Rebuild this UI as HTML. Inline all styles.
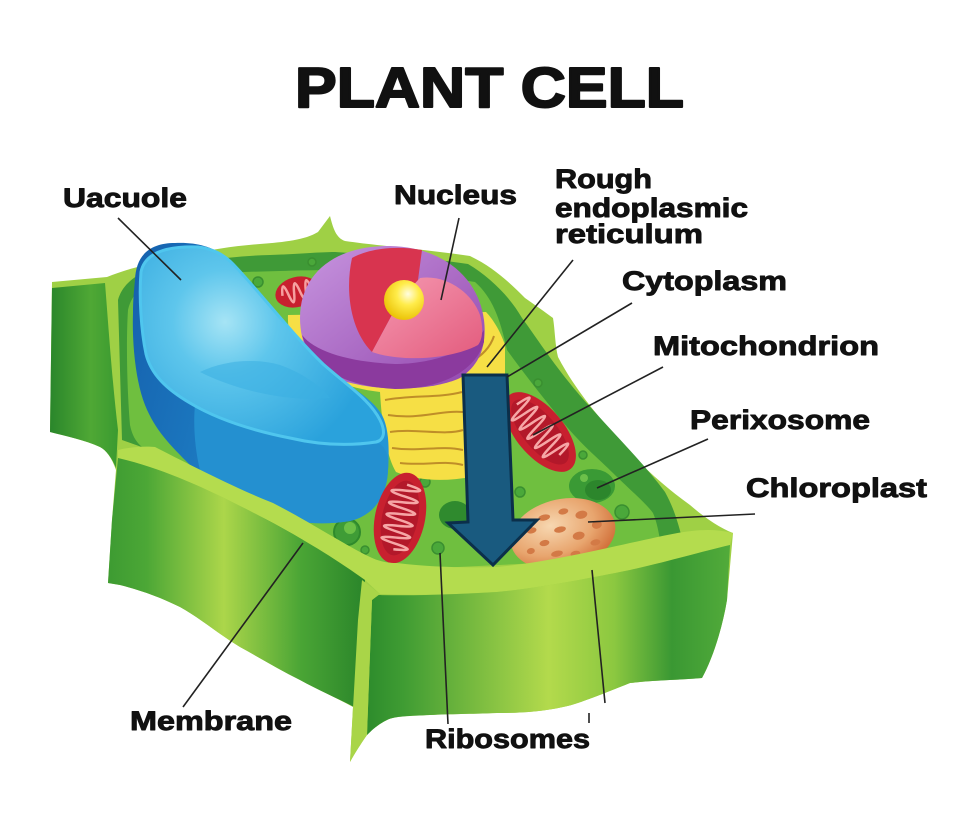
<!DOCTYPE html>
<html><head><meta charset="utf-8"><style>
html,body{margin:0;padding:0;background:#fff;}
svg{display:block;}
text{font-family:"Liberation Sans",Arial,sans-serif;font-weight:bold;fill:#111;stroke:#111;stroke-linejoin:round;}
</style></head><body>
<svg width="978" height="821" viewBox="0 0 978 821" xmlns="http://www.w3.org/2000/svg">
<defs>
<linearGradient id="gFlap" x1="0" y1="0" x2="1" y2="0"><stop offset="0" stop-color="#2a862b"/><stop offset="0.6" stop-color="#4fa835"/><stop offset="1" stop-color="#3a9a30"/></linearGradient>
<linearGradient id="gLL" x1="0" y1="0" x2="1" y2="0"><stop offset="0" stop-color="#3d9b32"/><stop offset="0.15" stop-color="#4ca736"/><stop offset="0.45" stop-color="#acd64a"/><stop offset="0.75" stop-color="#4aa535"/><stop offset="1" stop-color="#2a852a"/></linearGradient>
<linearGradient id="gMid" x1="0" y1="0" x2="1" y2="0"><stop offset="0" stop-color="#2d8c2c"/><stop offset="0.1" stop-color="#3f9c33"/><stop offset="0.5" stop-color="#b3da4c"/><stop offset="0.68" stop-color="#8cc840"/><stop offset="0.84" stop-color="#3a9833"/><stop offset="1" stop-color="#52ab3a"/></linearGradient>
<linearGradient id="gVacSide" x1="0" y1="0" x2="1" y2="0.3"><stop offset="0" stop-color="#1560ad"/><stop offset="1" stop-color="#2496d6"/></linearGradient>
<radialGradient id="gVacTop" gradientUnits="userSpaceOnUse" cx="225" cy="322" r="150"><stop offset="0" stop-color="#a6e4f5"/><stop offset="0.35" stop-color="#5ec6ec"/><stop offset="1" stop-color="#2aa2dc"/></radialGradient>
<linearGradient id="gPurple" x1="0" y1="0" x2="1" y2="1"><stop offset="0" stop-color="#c795df"/><stop offset="1" stop-color="#9246ad"/></linearGradient>
<linearGradient id="gPink" x1="0" y1="0" x2="1" y2="1"><stop offset="0" stop-color="#f59ab2"/><stop offset="1" stop-color="#e35b7d"/></linearGradient>
<radialGradient id="gBall" cx="0.6" cy="0.35" r="0.7"><stop offset="0" stop-color="#fffde0"/><stop offset="0.4" stop-color="#ffec4a"/><stop offset="1" stop-color="#e9bf00"/></radialGradient>
<radialGradient id="gChloro" cx="0.4" cy="0.35" r="0.7"><stop offset="0" stop-color="#f7d7b0"/><stop offset="0.6" stop-color="#e8a56e"/><stop offset="1" stop-color="#cf6a34"/></radialGradient>
</defs>

<!-- Title -->
<text x="295" y="107" font-size="57" textLength="389" lengthAdjust="spacingAndGlyphs" stroke-width="2">PLANT CELL</text>

<!-- Silhouette (light wall) -->
<path fill="#9fd045" d="M52,282 L107,277 C120,272 132,268 142,266 C180,255 220,247 260,244 C285,242 305,240 318,232 L330,216 C333,228 336,238 345,241 C380,246 430,250 470,256 C495,268 512,285 525,298 C535,305 545,312 553,318 C555,330 555,345 558,357 C570,380 585,400 600,418 C625,450 655,480 690,505 C705,518 720,528 733,533 L727,600 C722,630 712,660 702,678 C680,680 655,680 630,683 C600,695 575,705 563,707 C540,712 520,713 497,713 C470,714 450,714 430,715 C410,716 395,716 387,720 C377,725 372,730 367,735 C360,745 355,753 350,762 L353,707 C335,697 318,690 300,680 C280,670 260,658 240,647 C220,635 200,618 180,607 C160,597 140,590 120,585 L108,583 L112,520 L116,470 C112,458 106,450 100,447 C85,440 65,436 50,432 Z"/>

<!-- Upper-left flap face -->
<path fill="url(#gFlap)" d="M52,288 L105,283 C108,320 112,380 118,430 L116,468 C112,458 106,450 100,447 C85,440 65,436 50,432 Z"/>

<!-- Dark back band -->
<path fill="#3f9a37" d="M118,300 C122,285 135,275 150,270 C190,262 230,256 270,255 C300,254 320,252 335,252 C380,255 430,258 468,264 C490,277 510,297 522,318 C537,338 560,375 593,410 C620,440 645,465 665,492 C672,505 676,515 682,538 L640,550 L300,540 L150,450 L122,440 Z"/>

<!-- Cytoplasm -->
<path fill="#6fbf3f" d="M128,310 C132,292 145,283 165,278 C200,273 240,272 280,271 C310,270 340,270 360,270 C400,272 440,276 475,282 C492,297 500,318 507,350 C525,375 545,400 567,427 C585,448 600,460 613,473 C630,490 645,502 653,513 C656,520 658,528 660,540 L600,560 L397,570 L273,515 L155,455 C140,448 133,440 130,425 C127,390 126,340 128,310 Z"/>

<!-- small vesicles -->
<g fill="#4aa83a" stroke="#3a8f30" stroke-width="1.5">
<circle cx="258" cy="282" r="5"/><circle cx="312" cy="262" r="4"/>
<circle cx="425" cy="482" r="5"/><circle cx="520" cy="492" r="5"/>
<circle cx="583" cy="455" r="4"/><circle cx="538" cy="383" r="4"/>
<circle cx="622" cy="512" r="7"/><circle cx="300" cy="530" r="4"/>
<circle cx="438" cy="548" r="6"/><circle cx="365" cy="550" r="4"/>
</g>
<circle cx="347" cy="532" r="13" fill="#3f9c36" stroke="#2f8a2c" stroke-width="2"/>
<circle cx="350" cy="528" r="6" fill="#6cc046"/>
<ellipse cx="455" cy="515" rx="16" ry="14" fill="#2f8a2e"/>

<!-- Mitochondrion A (top-left, behind nucleus) -->
<g transform="translate(297,292) rotate(-15)">
<ellipse rx="22" ry="15" fill="#c8202f"/>
<path d="M-15,0 Q-12,-18 -9,0 T-3,0 T3,0 T9,0 T15,0" fill="none" stroke="#f6a0a0" stroke-width="2.5"/>
</g>

<!-- Rough ER -->
<path fill="#f6df45" d="M288,315 C286,355 320,385 380,392 C382,425 386,455 396,472 C425,484 465,482 505,468 L505,345 C500,330 492,318 486,312 Z"/>
<g fill="none" stroke="#bf8e28" stroke-width="2">
<path d="M385,400 C410,395 440,398 462,392"/>
<path d="M388,415 C420,420 440,410 463,412"/>
<path d="M390,432 C415,428 445,436 463,430"/>
<path d="M392,448 C420,452 440,445 463,450"/>
<path d="M400,463 C425,466 445,460 463,465"/>
<path d="M296,345 C318,372 350,382 385,386"/>
<path d="M470,362 C482,356 490,348 494,336"/>
</g>

<!-- Nucleus -->
<path fill="url(#gPurple)" d="M300,318 C300,270 340,245 390,246 C440,247 478,275 484,320 C487,345 480,365 460,378 C430,392 370,392 335,378 C312,368 300,345 300,318 Z"/>
<path fill="#8b3a9e" d="M302,335 C310,365 340,386 395,389 C440,389 475,372 484,342 L484,330 C470,352 430,364 395,364 C350,362 315,352 302,335 Z"/>
<path fill="#d8344f" d="M352,258 C368,249 395,245 422,250 L418,280 L400,300 L372,352 C350,330 345,290 352,258 Z"/>
<path fill="url(#gPink)" d="M372,352 L400,300 L420,278 C445,274 472,292 480,315 C484,330 482,340 478,345 C450,360 400,362 372,352 Z"/>
<circle cx="404" cy="300" r="20" fill="url(#gBall)"/>

<!-- Vacuole -->
<path fill="url(#gVacSide)" d="M135,280 C136,255 150,243 175,243 C200,242 215,248 230,260 C260,290 290,330 320,363 C345,385 370,395 382,415 C390,430 389,455 388,470 C387,495 375,515 350,521 C320,526 290,522 265,515 C240,505 215,490 190,465 C170,445 155,430 145,405 C135,380 132,340 133,313 C133,300 134,290 135,280 Z"/>
<path fill="#2490d0" d="M195,405 C230,425 290,442 380,444 C388,450 389,460 388,470 C387,495 375,515 350,521 C320,526 290,522 265,515 C240,505 215,490 200,470 C195,450 193,425 195,405 Z"/>
<path fill="url(#gVacTop)" stroke="#4fc6ee" stroke-width="3" d="M141,272 C145,252 168,246 198,247 C214,249 224,255 233,264 C260,292 290,332 323,364 C348,386 370,400 380,420 C386,432 384,440 376,442 C350,446 320,445 290,438 C250,430 215,418 190,403 C166,389 151,374 146,354 C141,330 139,296 141,272 Z"/>
<path fill="#3aaee2" opacity="0.55" d="M200,372 C240,392 290,402 330,398 C320,385 300,372 280,365 C255,358 225,360 200,372 Z"/>

<!-- Mitochondrion B -->
<g transform="translate(400,518) rotate(102)">
<ellipse rx="46" ry="25" fill="#c8202f"/>
<ellipse rx="38" ry="18" fill="#b3182a"/>
<path d="M-34,0 Q-31,-28 -28,0 T-22,0 T-16,0 T-10,0 T-4,0 T2,0 T8,0 T14,0 T20,0 T26,0 T32,0" fill="none" stroke="#f6a6a6" stroke-width="2.5"/>
</g>
<!-- Mitochondrion C -->
<g transform="translate(540,432) rotate(50)">
<ellipse rx="48" ry="24" fill="#c8202f"/>
<ellipse rx="40" ry="17" fill="#b3182a"/>
<path d="M-36,0 Q-33,-28 -30,0 T-24,0 T-18,0 T-12,0 T-6,0 T0,0 T6,0 T12,0 T18,0 T24,0 T30,0" fill="none" stroke="#f6a6a6" stroke-width="2.5"/>
</g>

<!-- Perixosome -->
<ellipse cx="592" cy="486" rx="23" ry="17" fill="#3a9a35"/>
<ellipse cx="598" cy="490" rx="13" ry="10" fill="#2c862c"/>
<circle cx="584" cy="478" r="4" fill="#6cc04a"/>

<!-- Chloroplast -->
<g transform="translate(563,534) rotate(-12)">
<ellipse rx="53" ry="35" fill="url(#gChloro)"/>
<g fill="#d37a46">
<ellipse cx="-30" cy="-10" rx="5" ry="3"/><ellipse cx="-15" cy="-20" rx="6" ry="3"/><ellipse cx="5" cy="-22" rx="5" ry="3"/>
<ellipse cx="22" cy="-15" rx="6" ry="4"/><ellipse cx="35" cy="-2" rx="5" ry="4"/><ellipse cx="-20" cy="5" rx="5" ry="3"/>
<ellipse cx="-2" cy="-5" rx="6" ry="3"/><ellipse cx="15" cy="5" rx="6" ry="4"/><ellipse cx="30" cy="15" rx="5" ry="3"/>
<ellipse cx="-35" cy="10" rx="4" ry="3"/><ellipse cx="-10" cy="18" rx="6" ry="3"/><ellipse cx="8" cy="22" rx="5" ry="3"/>
</g>
</g>

<!-- Front rim band -->
<path fill="#b4dc4e" d="M118,450 C130,447 145,446 155,447 C200,470 240,490 273,503 C310,522 345,545 370,557 C380,562 390,563 397,563 C430,567 465,568 497,567 C540,563 590,552 630,543 C670,535 700,525 733,533 L730,545 C700,552 670,561 630,570 C590,578 540,588 497,592 C460,594 420,596 380,594 L365,580 C340,562 310,543 273,523 C220,495 170,470 118,458 Z"/>

<!-- Lower-left panel -->
<path fill="url(#gLL)" d="M118,458 C170,470 220,495 273,523 C310,543 340,562 365,580 L356,708 C335,697 318,690 300,680 C280,670 260,658 240,647 C220,635 200,618 180,607 C160,597 140,590 120,585 L108,583 L112,520 Z"/>

<!-- Middle panel -->
<path fill="url(#gMid)" d="M378,595 C420,596 460,594 497,592 C540,588 590,578 630,570 C670,561 700,552 730,545 L727,600 C722,630 712,660 702,678 C680,680 655,680 630,683 C600,695 575,705 563,707 C540,712 520,713 497,713 C470,714 450,714 430,715 C410,716 395,716 387,720 C377,725 372,730 367,735 L372,600 Z"/>
<path fill="#a9d548" d="M362,580 L380,594 L372,600 L367,735 C360,745 355,753 350,762 L353,708 L358,620 Z"/>

<!-- Arrow -->
<polygon points="463,375 507,375 513,520 537,520 493,565 448,523 468,522" fill="#195a7f" stroke="#0b2f4a" stroke-width="3" stroke-linejoin="miter"/>

<!-- Connector lines -->
<g stroke="#222" stroke-width="1.6" fill="none">
<line x1="118" y1="218" x2="181" y2="280"/>
<line x1="459" y1="218" x2="441" y2="300"/>
<line x1="573" y1="260" x2="487" y2="367"/>
<line x1="632" y1="303" x2="507" y2="377"/>
<line x1="663" y1="367" x2="533" y2="435"/>
<line x1="708" y1="439" x2="597" y2="488"/>
<line x1="755" y1="514" x2="588" y2="522"/>
<line x1="303" y1="543" x2="183" y2="707"/>
<line x1="440" y1="553" x2="448" y2="724"/>
<line x1="592" y1="570" x2="605" y2="703"/>
<line x1="589" y1="713" x2="589" y2="723"/>
</g>

<!-- Labels -->
<g font-size="27" stroke-width="0.9">
<text x="63" y="207" textLength="124" lengthAdjust="spacingAndGlyphs">Uacuole</text>
<text x="394" y="204" textLength="123" lengthAdjust="spacingAndGlyphs">Nucleus</text>
<text x="555" y="188" textLength="97" lengthAdjust="spacingAndGlyphs">Rough</text>
<text x="555" y="217" textLength="193" lengthAdjust="spacingAndGlyphs">endoplasmic</text>
<text x="555" y="243" textLength="148" lengthAdjust="spacingAndGlyphs">reticulum</text>
<text x="622" y="290" textLength="165" lengthAdjust="spacingAndGlyphs">Cytoplasm</text>
<text x="653" y="355" textLength="226" lengthAdjust="spacingAndGlyphs">Mitochondrion</text>
<text x="690" y="429" textLength="180" lengthAdjust="spacingAndGlyphs">Perixosome</text>
<text x="746" y="497" textLength="181" lengthAdjust="spacingAndGlyphs">Chloroplast</text>
<text x="130" y="730" textLength="162" lengthAdjust="spacingAndGlyphs">Membrane</text>
<text x="425" y="748" textLength="165" lengthAdjust="spacingAndGlyphs">Ribosomes</text>
</g>
</svg>
</body></html>
